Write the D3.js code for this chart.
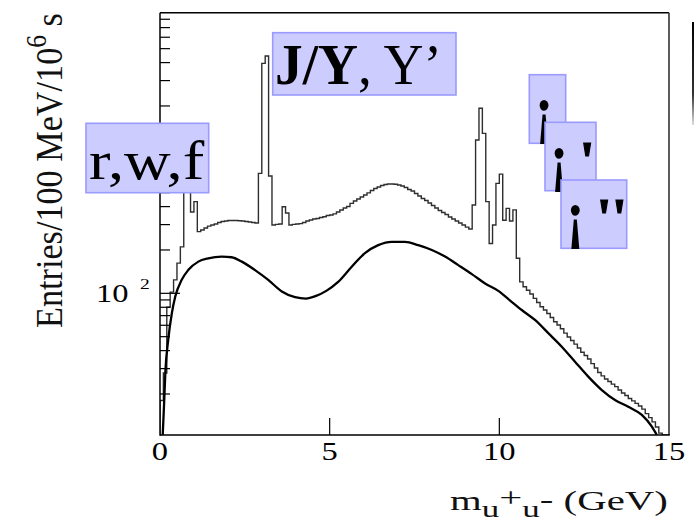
<!DOCTYPE html>
<html><head><meta charset="utf-8">
<script src="https://cdn.jsdelivr.net/npm/d3@7"></script>
<style>body{margin:0;background:#fff}svg{display:block}</style>
</head><body>
<svg id="c" width="698" height="527"></svg>
<script>
// ---------------- data ----------------
const binWidth = 0.1; // GeV
// thin histogram: entries per 100 MeV bin, bins 0.0-0.1 ... 14.9-15.0
const histCounts = [
  18, 28, 80, 102, 124, 162, 210, 900, 600, 367,
  433, 268, 275, 284, 293, 298, 303, 310, 315, 318,
  320, 320, 320, 319, 318, 315, 313, 310, 308, 681,
  3950, 4450, 653, 298, 301, 303, 399, 361, 298, 301,
  303, 305, 310, 318, 323, 328, 331, 336, 340, 347,
  350, 356, 367, 379, 391, 401, 421, 438, 452, 467,
  482, 498, 518, 535, 547, 561, 570, 574, 574, 572,
  565, 556, 543, 526, 513, 493, 474, 455, 441, 424,
  407, 391, 376, 364, 353, 339, 328, 318, 308, 298,
  288, 280, 410, 1160, 1930, 1290, 433, 222, 298, 580,
  673, 322, 389, 318, 380, 175, 120, 111, 105, 98.9,
  92.3, 86.4, 80.7, 76.6, 72.4, 67.9, 63.5, 60.3, 56.7, 52.9,
  49.7, 47.0, 44.4, 41.7, 39.0, 37.0, 35.0, 32.5, 30.3, 28.2,
  26.7, 25.4, 24.4, 23.4, 22.5, 21.3, 20.3, 19.5, 18.6, 17.9,
  17.2, 16.5, 15.7, 14.6, 13.7, 12.8, 11.8, 10.7, 8, 6
];
// thick smooth curve
const fitMass = [0.08, 0.12, 0.16, 0.24, 0.35, 0.45, 0.64, 0.83, 1.13, 1.42,
  1.82, 2.11, 2.41, 2.80, 3.19, 3.59, 3.98, 4.30, 4.60, 4.90,
  5.25, 5.65, 6.04, 6.43, 6.83, 7.22, 7.61, 8.01, 8.40, 8.79,
  9.19, 9.58, 9.97, 10.32, 10.66, 11.05, 11.45, 11.84, 12.23, 12.62,
  13.02, 13.42, 13.80, 14.20, 14.49, 14.64];
const fitCounts = [10.4, 17, 29, 47, 73, 95, 124, 145, 166, 175,
  180, 178, 166, 145, 124, 103, 94, 92, 96, 104,
  120, 153, 190, 216, 228, 228, 216, 200, 180, 157,
  136, 117, 104, 89, 76.6, 65.3, 52.7, 42.6, 33.5, 26.4,
  21.3, 18.1, 16.3, 14.3, 11.9, 10.4];
const xTickValues = [0, 5, 10, 15];
const xTickLabels = ["0", "5", "10", "15"];
const yMajorTicks = [100, 1000];
const yMinorTicks = [20, 30, 40, 50, 60, 70, 80, 90, 200, 300, 400, 500, 600, 700, 800, 900,
  2000, 3000, 4000, 5000, 6000, 7000, 8000];
const yLabelBase = ["10"];
const yLabelExp = ["2"];
const yLabelValue = [100];
const annotationTexts = ["r,w,f", "J/Y", ", Y\u2019"];
const upsilonTexts = ["\u00A1", "\u00A1", "\u00A1"];
const upsilonPrimes = ["", "'", "''"];

// ---------------- layout ----------------
const L = 160, R = 669, T = 12.7, B = 435;
const serif = "'Liberation Serif','Times New Roman',serif";
const svg = d3.select("#c");
svg.append("rect").attr("width", 698).attr("height", 527).attr("fill", "#fff");

const x = d3.scaleLinear().domain([0, 15]).range([L, R]);
const y = d3.scaleLog().domain([10.38, 8884]).range([B, T]).clamp(true);

svg.append("clipPath").attr("id", "pc").append("rect")
  .attr("x", L).attr("y", T).attr("width", R - L).attr("height", B - T);

// histogram (step)
const histPts = [[0, 10.38]];
histCounts.forEach((v, i) => histPts.push([i * binWidth, v]));
histPts.push([histCounts.length * binWidth, histCounts[histCounts.length - 1]]);
const stepLine = d3.line().x(d => x(d[0])).y(d => y(d[1])).curve(d3.curveStepAfter);
svg.append("path").attr("clip-path", "url(#pc)")
  .attr("d", stepLine(histPts)).attr("fill", "none")
  .attr("stroke", "#2e2e2e").attr("stroke-width", 1.4);

// smooth curve
const fitLine = d3.line().x(d => x(d[0])).y(d => y(d[1])).curve(d3.curveMonotoneX);
svg.append("path").attr("clip-path", "url(#pc)")
  .attr("d", fitLine(fitMass.map((m, i) => [m, fitCounts[i]])))
  .attr("fill", "none").attr("stroke", "#000").attr("stroke-width", 2.3);

// frame
svg.append("line").attr("x1", L).attr("x2", R).attr("y1", T).attr("y2", T).attr("stroke", "#000").attr("stroke-width", 1.4);
svg.append("line").attr("x1", R).attr("x2", R).attr("y1", T).attr("y2", B).attr("stroke", "#333").attr("stroke-width", 1.6);
svg.append("line").attr("x1", L).attr("x2", L).attr("y1", T).attr("y2", B + 0.7).attr("stroke", "#000").attr("stroke-width", 1.5);
svg.append("line").attr("x1", L).attr("x2", R + 0.8).attr("y1", B).attr("y2", B).attr("stroke", "#000").attr("stroke-width", 1.6);

// y ticks
svg.selectAll(".ymin").data(yMinorTicks).enter().append("line")
  .attr("x1", L).attr("x2", L + 10).attr("y1", d => y(d)).attr("y2", d => y(d))
  .attr("stroke", "#000").attr("stroke-width", 1.2);
svg.selectAll(".ymaj").data(yMajorTicks).enter().append("line")
  .attr("x1", L).attr("x2", L + 20).attr("y1", d => y(d)).attr("y2", d => y(d))
  .attr("stroke", "#000").attr("stroke-width", 1.2);
// x ticks
svg.selectAll(".xt").data(xTickValues.slice(1, -1)).enter().append("line")
  .attr("x1", d => x(d)).attr("x2", d => x(d)).attr("y1", B).attr("y2", B - 17)
  .attr("stroke", "#000").attr("stroke-width", 1.2);

// x tick labels
xTickValues.forEach((v, i) => {
  svg.append("text").text(xTickLabels[i])
    .attr("text-anchor", "middle").attr("font-family", serif).attr("font-size", 25)
    .attr("transform", `translate(${x(v)},460) scale(1.3,1)`);
});
// y tick label 10^2
yLabelValue.forEach((v, i) => {
  const t = svg.append("text").attr("font-family", serif).attr("font-size", 25)
    .attr("transform", `translate(96,${y(v) + 8.4}) scale(1.3,1)`);
  t.append("tspan").text(yLabelBase[i]);
  t.append("tspan").attr("dx", 8.8).attr("dy", -12.4).attr("font-size", 15).text(yLabelExp[i]);
});

// fit text helper
function fitText(t, tx, ty, targetW, rot, sy) {
  const bb = t.node().getBBox();
  const s = targetW / bb.width;
  t.attr("transform", `translate(${tx},${ty})${rot ? ` rotate(${rot})` : ""} scale(${s},${sy || 1})`);
}

// y title
const yt = svg.append("text").attr("font-family", serif).attr("font-size", 35).attr("fill", "#111");
yt.append("tspan").text("Entries/100 MeV/10");
yt.append("tspan").attr("font-size", 26).attr("dy", -15).text("6");
yt.append("tspan").attr("dy", 15).text(" s");
fitText(yt, 62, 328, 315, -90, 1.1);

// x title
const xt = svg.append("text").attr("font-family", serif).attr("font-size", 28).attr("fill", "#111");
xt.append("tspan").text("m");
xt.append("tspan").attr("font-size", 24).attr("dy", 7).text("u");
xt.append("tspan").attr("dy", -10).text("+");
xt.append("tspan").attr("font-size", 24).attr("dy", 10).text("u");
xt.append("tspan").attr("dy", -9).text("-");
xt.append("tspan").attr("dy", 2).text(" (GeV)");
fitText(xt, 450, 510, 218);

// annotation boxes
function box(x0, y0, w, h) {
  svg.append("rect").attr("x", x0).attr("y", y0).attr("width", w).attr("height", h)
    .attr("fill", "#ccccff").attr("stroke", "#9a9aff").attr("stroke-width", 1.6);
}
box(86, 123.3, 122.7, 69.4);
const t1 = svg.append("text").attr("font-family", serif).attr("font-size", 55).text(annotationTexts[0]);
fitText(t1, 89, 178.5, 116);

box(272.7, 32.7, 183.3, 62.3);
const t2 = svg.append("text").attr("font-family", serif).attr("font-size", 57);
t2.append("tspan").attr("font-weight", "bold").text(annotationTexts[1]);
t2.append("tspan").text(annotationTexts[2]);
fitText(t2, 275, 83.5, 167);

const upsBoxes = [[529.3, 74.7, 36.4, 68.6, 544, 131, 0], [545, 122.3, 51, 68.4, 559, 178.7, 587], [561, 180, 65.7, 68.3, 575.3, 236, 604]];
upsBoxes.forEach((b, i) => {
  box(b[0], b[1], b[2], b[3]);
  svg.append("text").attr("font-family", serif).attr("font-weight", "bold").attr("font-size", 52)
    .attr("text-anchor", "middle")
    .attr("transform", `translate(${b[4]},${b[5]}) scale(1.05,1.25)`).text(upsilonTexts[i]);
  if (upsilonPrimes[i]) {
    svg.append("text").attr("font-family", serif).attr("font-weight", "bold").attr("font-size", 55)
      .attr("stroke", "#000").attr("stroke-width", 1.1)
      .attr("x", b[6] - 7.6).attr("y", b[5]).text(upsilonPrimes[i]);
  }
});

// edge artifact at right
const g = svg.append("defs").append("linearGradient").attr("id", "fade")
  .attr("gradientUnits", "userSpaceOnUse").attr("x1", 0).attr("y1", 22).attr("x2", 0).attr("y2", 125);
g.append("stop").attr("offset", 0).attr("stop-color", "#000");
g.append("stop").attr("offset", 0.7).attr("stop-color", "#333");
g.append("stop").attr("offset", 1).attr("stop-color", "#ddd");
svg.append("rect").attr("x", 692).attr("y", 22).attr("width", 2).attr("height", 103).attr("fill", "url(#fade)");
</script>
</body></html>
